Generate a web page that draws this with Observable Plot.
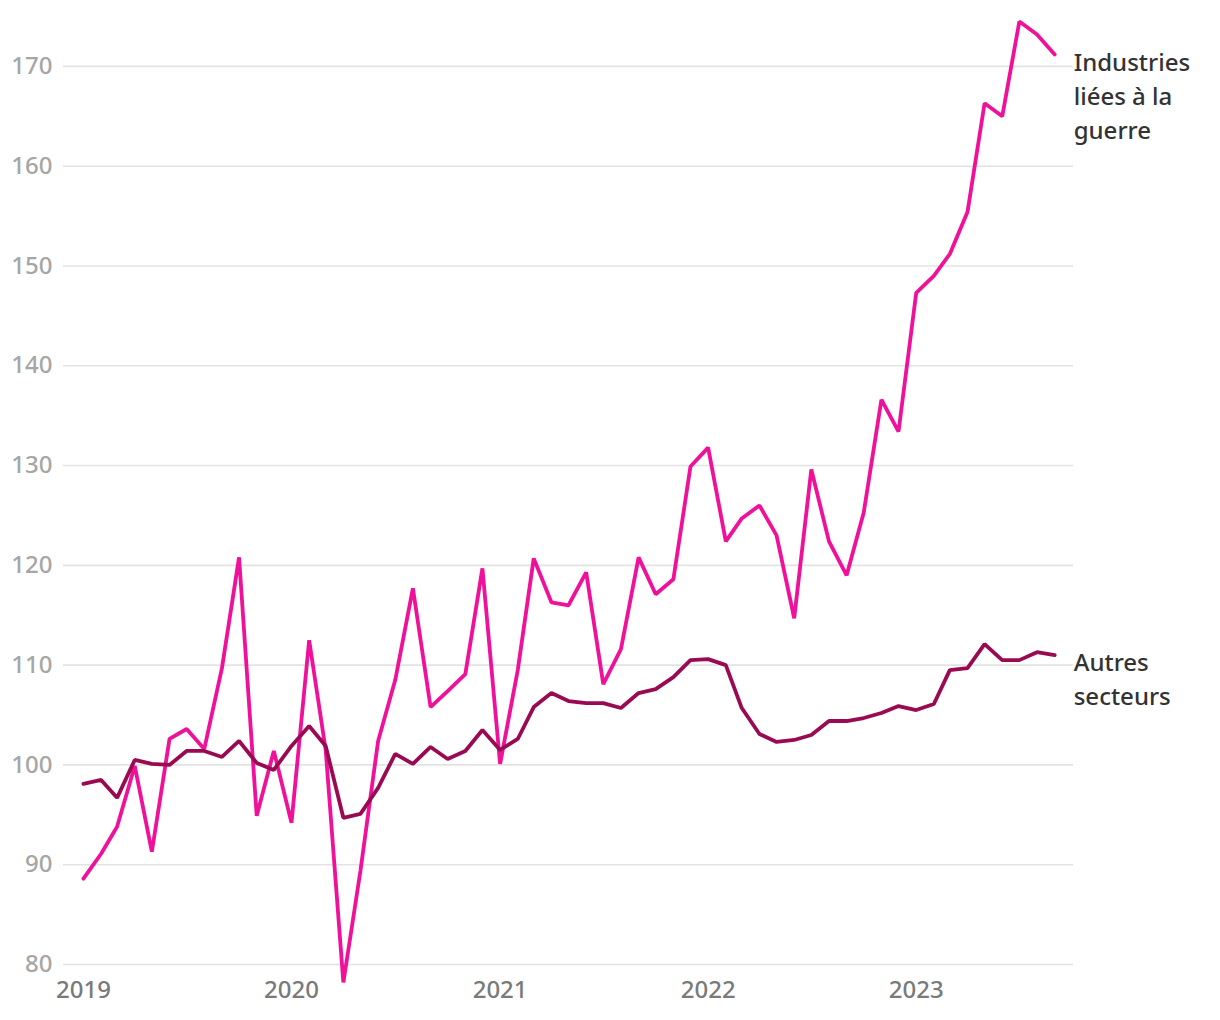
<!DOCTYPE html>
<html>
<head>
<meta charset="utf-8">
<script src="https://cdn.jsdelivr.net/npm/d3@7"></script>
<script src="https://cdn.jsdelivr.net/npm/@observablehq/plot@0.6"></script>
<style>
  html, body { margin: 0; padding: 0; background: #fff; }
  #chart svg { display: block; }
</style>
</head>
<body>
<div id="chart"></div>
<script>
// Monthly index values, Jan 2019 – Sep 2023
const startMonth = "2019-01-01";
const war = [
  88.6, 91.1, 93.8, 99.9, 91.3, 102.6, 103.6, 101.6, 109.7, 120.8, 94.9, 101.4,
  94.2, 112.5, 101.5, 78.2, 89.4, 102.4, 108.5, 117.7, 105.8, 107.4, 109.1, 119.7,
  100.1, 109.5, 120.7, 116.3, 116.0, 119.3, 108.1, 111.6, 120.8, 117.1, 118.6, 129.9,
  131.8, 122.4, 124.7, 126.0, 123.0, 114.7, 129.6, 122.4, 119.0, 125.3, 136.6, 133.4,
  147.3, 149.0, 151.2, 155.4, 166.3, 165.0, 174.5, 173.2, 171.2
];
const other = [
  98.1, 98.5, 96.7, 100.5, 100.1, 100.0, 101.4, 101.4, 100.8, 102.4, 100.2, 99.5,
  101.9, 103.9, 101.9, 94.7, 95.1, 97.7, 101.1, 100.1, 101.8, 100.6, 101.4, 103.5,
  101.5, 102.6, 105.8, 107.2, 106.4, 106.2, 106.2, 105.7, 107.2, 107.6, 108.8, 110.5,
  110.6, 110.0, 105.7, 103.1, 102.3, 102.5, 103.0, 104.4, 104.4, 104.7, 105.2, 105.9,
  105.5, 106.1, 109.5, 109.7, 112.1, 110.5, 110.5, 111.3, 111.0
];
const seriesNames = ["Industries\nliées à la\nguerre", "Autres\nsecteurs"];
const seriesColors = ["#f0119a", "#990a52"];
const yTicks = [80, 90, 100, 110, 120, 130, 140, 150, 160, 170];
const yearTicks = ["2019-01-01", "2020-01-01", "2021-01-01", "2022-01-01", "2023-01-01"];

const dates = d3.utcMonth.range(new Date(startMonth), d3.utcMonth.offset(new Date(startMonth), war.length));
const rows = [];
[war, other].forEach((vals, s) => vals.forEach((v, i) => rows.push({date: dates[i], value: v, series: s})));
const last = [war, other].map((vals, s) => ({date: dates[vals.length - 1], value: vals[vals.length - 1], series: s, label: seriesNames[s]}));

const font = "'Noto Sans', 'Open Sans', sans-serif";

const chart = Plot.plot({
  width: 1220,
  height: 1020,
  marginLeft: 63,
  marginRight: 147,
  marginTop: 16,
  marginBottom: 56,
  style: {fontFamily: font, background: "#fff", overflow: "visible"},
  x: {type: "utc", domain: [new Date("2018-11-27"), new Date("2023-10-04")]},
  y: {domain: [80, 175]},
  marks: [
    Plot.gridY(yTicks, {stroke: "#e3e3e3", strokeOpacity: 1, strokeWidth: 1.6}),
    Plot.axisY(yTicks, {tickSize: 0, tickPadding: 11, fontSize: 24, fontWeight: 500, fill: "#a6a6a6", label: null}),
    Plot.axisX(yearTicks.map(d => new Date(d)), {tickSize: 0, tickPadding: 16, fontSize: 24, fontWeight: 500, fill: "#7a7a7a", tickFormat: d3.utcFormat("%Y"), label: null}),
    Plot.line(rows.filter(d => d.series === 0), {x: "date", y: "value", stroke: seriesColors[0], strokeWidth: 3.8, strokeLinejoin: "miter"}),
    Plot.line(rows.filter(d => d.series === 1), {x: "date", y: "value", stroke: seriesColors[1], strokeWidth: 3.8, strokeLinejoin: "miter"}),
    Plot.text(last, {x: "date", y: "value", text: "label", textAnchor: "start", lineAnchor: "top", dx: 19, dy: -8, fontSize: 24, fontWeight: 500, lineHeight: 1.42, fill: "#333"})
  ]
});
document.getElementById("chart").appendChild(chart);
</script>
</body>
</html>
